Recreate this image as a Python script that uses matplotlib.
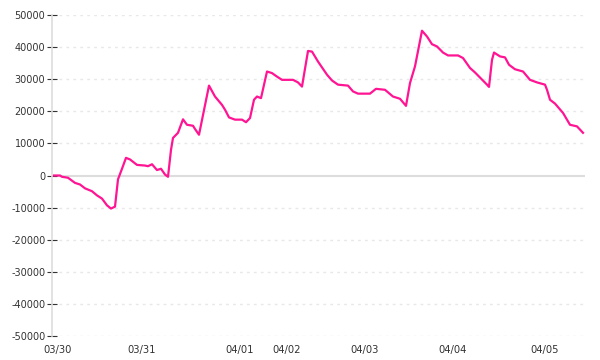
import matplotlib
matplotlib.use("Agg")
import matplotlib.pyplot as plt

# sample position (arbitrary time index) and cumulative value
t = [0, 6, 8, 14, 21, 26, 31, 38, 43, 48, 53, 57, 61, 64, 68, 72, 76, 83, 91, 94,
     98, 103, 107, 111, 114, 117, 119, 124, 129, 133, 139, 141, 145, 155, 161, 168,
     171, 175, 181, 188, 192, 196, 200, 203, 207, 213, 218, 223, 228, 239, 244, 248,
     254, 258, 264, 273, 278, 284, 294, 299, 304, 316, 322, 331, 339, 346, 352, 356,
     361, 368, 373, 378, 383, 389, 394, 404, 409, 416, 421, 433, 435, 438, 440, 446,
     451, 455, 461, 469, 476, 483, 491, 493, 496, 501, 509, 516, 523, 529]
pnl = [0, 0, -400, -700, -2300, -2800, -4000, -4900, -6200, -7200, -9300, -10300,
       -9700, -1200, 2100, 5500, 5000, 3300, 3100, 2900, 3500, 1700, 2100, 300, -400,
       8000, 11700, 13300, 17500, 15800, 15500, 14500, 12700, 28000, 24600, 22000,
       20500, 18100, 17400, 17400, 16600, 17900, 23600, 24600, 24100, 32400, 31900,
       30800, 29800, 29800, 29000, 27700, 38800, 38600, 35500, 31400, 29600, 28300,
       28000, 26200, 25500, 25500, 27000, 26700, 24600, 23900, 21700, 28800, 34000,
       45100, 43300, 40900, 40200, 38300, 37400, 37400, 36600, 33500, 32100, 28300,
       27600, 36000, 38300, 37100, 36800, 34500, 33100, 32400, 29800, 29000, 28300,
       26700, 23600, 22400, 19500, 15800, 15300, 13300]

day_pos = [4, 88, 186, 233, 311, 399, 491]
day_labels = ["03/30", "03/31", "04/01", "04/02", "04/03", "04/04", "04/05"]
y_ticks = [50000, 40000, 30000, 20000, 10000, 0, -10000, -20000, -30000, -40000, -50000]

fig = plt.figure(figsize=(6, 3.6), dpi=100)
ax = fig.add_axes([52/600, 1-336/360, 533/600, 321/360])

for v in y_ticks:
    if v == 0:
        ax.axhline(v, color="#dddddd", lw=1.5, zorder=1)
    else:
        ax.axhline(v, color="#e8e8e8", lw=1, ls=(0, (2, 3)), zorder=1)

ax.plot(t, pnl, color="#ff1493", lw=1.6, zorder=3, solid_joinstyle="round")

ax.set_xlim(-2, 531)
ax.set_ylim(-50000, 50000)
ax.set_yticks(y_ticks)
ax.set_yticklabels([str(v) for v in y_ticks])
ax.set_xticks(day_pos)
ax.set_xticklabels(day_labels)

for s in ["top", "right", "bottom"]:
    ax.spines[s].set_visible(False)
ax.spines["left"].set_color("#dddddd")
ax.spines["left"].set_linewidth(1.2)

ax.tick_params(axis="y", direction="inout", length=6.5, width=0.8, color="#333333",
               labelsize=7, labelcolor="#333333", pad=1.5)
ax.tick_params(axis="x", length=0, labelsize=7.2, labelcolor="#333333", pad=6.5)

fig.savefig("out.png", dpi=100)
